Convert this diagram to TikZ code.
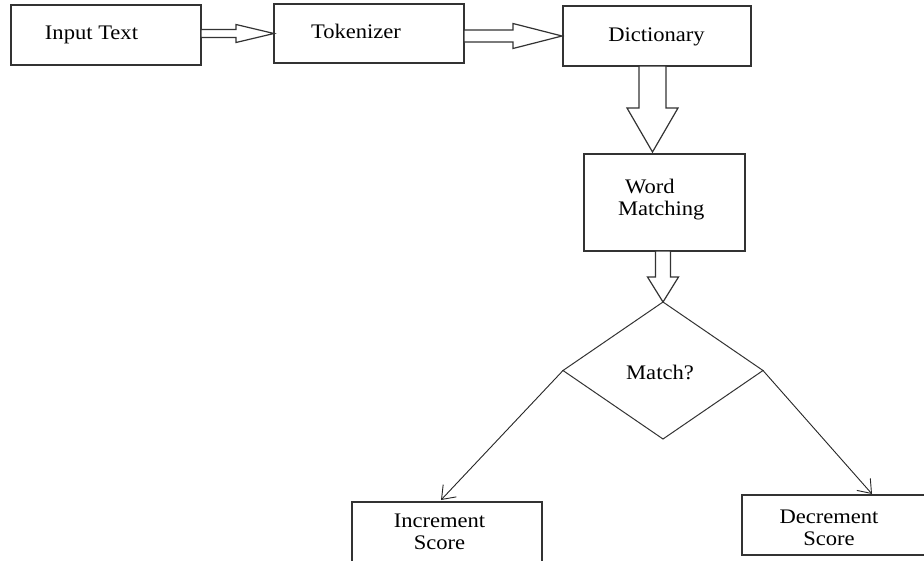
\documentclass[tikz,border=0pt]{standalone}
\usepackage{fontspec}
\setmainfont{Liberation Serif}[FakeStretch=1.09]
\usetikzlibrary{calc,shapes.geometric,arrows.meta}

% Hollow block arrow: start, tip, shaft half-width, head half-width, head length
\newcommand\blockarrow[5]{%
  \path ($(#2)!#5!(#1)$) coordinate (ba-h);
  \draw[blockarr] ($(#1)!#3!90:(#2)$) -- ($(ba-h)!#3!90:(#2)$)
    -- ($(ba-h)!#4!90:(#2)$) -- (#2) -- ($(ba-h)!#4!-90:(#2)$)
    -- ($(ba-h)!#3!-90:(#2)$) -- ($(#1)!#3!-90:(#2)$) -- cycle;}

\begin{document}
\begin{tikzpicture}[x=1pt,y=-1pt,
  box/.style={draw=black!80, line width=1.3pt, rectangle, inner sep=0pt, outer sep=0pt},
  decision/.style={draw=black!80, line width=1pt, diamond, inner sep=0pt, outer sep=0pt,
    minimum width=200pt, minimum height=137pt},
  lbl/.style={inner sep=0pt, outer sep=0pt, anchor=north, align=center,
    font=\fontsize{20.7}{22}\selectfont},
  blockarr/.style={draw=black!80, line width=1.2pt, fill=white, line join=miter},
  flow/.style={draw=black!85, line width=0.9pt,
    -{Straight Barb[length=12pt, width=18pt, line width=0.9pt]}}]

\clip (0,0) rectangle (924,560);
\fill[white] (0,0) rectangle (924,560);

% boxes
\node[box, minimum width=190pt, minimum height=60pt] (input) at (106,35) {};
\node[box, minimum width=190pt, minimum height=59pt] (tok) at (369,33.5) {};
\node[box, minimum width=188pt, minimum height=60pt] (dict) at (657,36) {};
\node[box, minimum width=161pt, minimum height=97pt] (word) at (664.5,202.5) {};
\node[decision] (match) at (663,370.5) {};
\node[box, minimum width=190pt, minimum height=60pt] (inc) at (447,532) {};
\node[box, minimum width=184pt, minimum height=60pt] (dec) at (834,525) {};

% labels (placed 15.4pt above the first baseline, i.e. the strut height)
\node[lbl] (input-t) at (91.5,23.6) {\strut Input Text};
\node[lbl] (tok-t) at (356,22.6) {\strut Tokenizer};
\node[lbl] (dict-t) at (656.5,25.6) {\strut Dictionary};
\node[lbl, anchor=north west, align=left] (word-t) at (618,177.6)
  {\strut\hspace*{7pt}Word\\\strut Matching};
\node[lbl] (match-t) at (660,363.6) {\strut Match?};
\node[lbl] (inc-t) at (439.5,511.6) {\strut Increment\\\strut Score};
\node[lbl] (dec-t) at (829,507.6) {\strut Decrement\\\strut Score};

% hollow block arrows between the stages
\coordinate (a1s) at (input.east |- tok.west);
\blockarrow{a1s}{tok.west}{4pt}{9pt}{38pt}
\coordinate (a2s) at (tok.east |- dict.west);
\coordinate (a2e) at ($(dict.west)+(-1,0)$);
\blockarrow{a2s}{a2e}{6pt}{12.5pt}{49pt}
\coordinate (a3s) at ($(dict.south)+(-4.5,0)$);
\coordinate (a3e) at ($(a3s |- word.north)+(0,-2)$);
\blockarrow{a3s}{a3e}{13.5pt}{25.5pt}{44pt}
\coordinate (a4s) at (match.north |- word.south);
\blockarrow{a4s}{match.north}{7.5pt}{15.5pt}{25pt}

% decision outcomes
\coordinate (incin) at ($(inc.north)+(-6,-2)$);
\coordinate (decin) at ($(dec.north)+(38,-1)$);
\draw[flow] (match.west) -- (incin);
\draw[flow] (match.east) -- (decin);
\end{tikzpicture}
\end{document}
